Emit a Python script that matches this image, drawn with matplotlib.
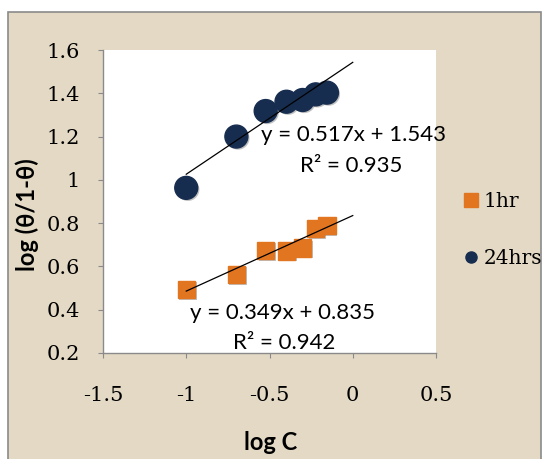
import matplotlib
matplotlib.use('Agg')
import matplotlib.pyplot as plt
from matplotlib.patches import Rectangle
from matplotlib.lines import Line2D
import matplotlib.patheffects as pe
import numpy as np

# data
log_c = [-1.0, -0.699, -0.523, -0.398, -0.301, -0.222, -0.155]
theta_1hr = [0.494, 0.564, 0.675, 0.672, 0.685, 0.776, 0.788]
theta_24hrs = [0.963, 1.200, 1.318, 1.361, 1.369, 1.395, 1.403]
fit_1hr = (0.349, 0.835, 0.942)
fit_24hrs = (0.517, 1.543, 0.935)
fit_range = [-1.0, 0.0]
x_ticks = [-1.5, -1.0, -0.5, 0.0, 0.5]
x_labels = ['-1.5', '-1', '-0.5', '0', '0.5']
y_ticks = [0.2, 0.4, 0.6, 0.8, 1.0, 1.2, 1.4, 1.6]
y_labels = ['0.2', '0.4', '0.6', '0.8', '1', '1.2', '1.4', '1.6']

W, H = 543, 459
BEIGE = '#e3d9c5'
GRAY = '#8a8a8a'
ORANGE = '#e2751f'
NAVY = '#172d4f'
SANS = ['Lato', 'DejaVu Sans']
SERIF = ['DejaVu Serif']

fig = plt.figure(figsize=(W / 100, H / 100), dpi=100)
fig.patch.set_facecolor('white')
fig.patches.append(Rectangle((8 / W, -0.05), (541 - 8) / W, (H - 12) / H + 0.05,
                             transform=fig.transFigure, facecolor=BEIGE,
                             edgecolor=GRAY, lw=1.2, zorder=-10))

ax = fig.add_axes([103 / W, 1 - 353 / H, 333 / W, 303 / H])
ax.set_facecolor('white')
for s in ['top', 'right']:
    ax.spines[s].set_visible(False)
for s in ['left', 'bottom']:
    ax.spines[s].set_color(GRAY)
    ax.spines[s].set_linewidth(1.0)

ax.set_xlim(-1.5, 0.5)
ax.set_ylim(0.2, 1.6)
ax.set_xticks(x_ticks)
ax.set_xticklabels(x_labels, family=SERIF, fontsize=15)
ax.set_yticks(y_ticks)
ax.set_yticklabels(y_labels, family=SERIF, fontsize=15)
ax.tick_params(axis='y', length=3.6, pad=13, color=GRAY)
ax.tick_params(axis='x', length=3.6, pad=20.5, color=GRAY)

shadow = [pe.SimplePatchShadow(offset=(1.2, -1.2), shadow_rgbFace='#777777', alpha=0.45), pe.Normal()]

xf = np.array(fit_range)
ax.plot(xf, fit_24hrs[0] * xf + fit_24hrs[1], color='black', lw=0.9, zorder=3)
ax.plot(xf, fit_1hr[0] * xf + fit_1hr[1], color='black', lw=0.9, zorder=3)

ax.plot(log_c, theta_24hrs, 'o', color=NAVY, ms=16.5, mec=NAVY, zorder=2, path_effects=shadow)
ax.plot(log_c, theta_1hr, 's', color=ORANGE, ms=12.5, mec=ORANGE, zorder=2, path_effects=shadow)

eq_font = dict(family=SANS, fontsize=16, ha='center', va='center', zorder=4)
ax.text(0.752, 0.719, 'y = %.3fx + %.3f' % fit_24hrs[:2], transform=ax.transAxes,
        clip_on=False, **eq_font)
ax.text(0.746, 0.617, 'R² = %.3f' % fit_24hrs[2], transform=ax.transAxes, **eq_font)
ax.text(0.539, 0.132, 'y = %.3fx + %.3f' % fit_1hr[:2], transform=ax.transAxes, **eq_font)
ax.text(0.544, 0.033, 'R² = %.3f' % fit_1hr[2], transform=ax.transAxes, **eq_font)

fig.text(27 / W, 1 - 215 / H, 'log (θ/1-θ)', rotation=90, ha='center', va='center',
         family=SANS, fontsize=17, fontweight='bold')
fig.text(271 / W, 1 - 443 / H, 'log C', ha='center', va='center',
         family=SANS, fontsize=17, fontweight='bold')

handles = [Line2D([], [], marker='s', ls='none', color=ORANGE, ms=10),
           Line2D([], [], marker='o', ls='none', color=NAVY, ms=8)]
fig.legend(handles, ['1hr', '24hrs'], loc='center left',
           bbox_to_anchor=(453 / W, 1 - 230 / H), frameon=False,
           prop={'family': SERIF, 'size': 14.5}, labelspacing=1.9,
           handletextpad=0.1, handlelength=1.0, borderaxespad=0)

fig.savefig('out.png', dpi=100, facecolor=fig.get_facecolor())
